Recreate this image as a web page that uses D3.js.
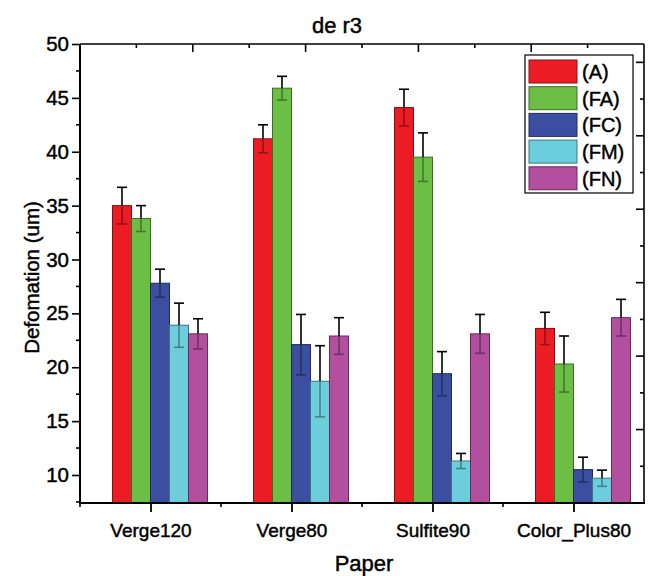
<!DOCTYPE html>
<html><head><meta charset="utf-8">
<script src="https://cdn.jsdelivr.net/npm/d3@7"></script>
<style>body{margin:0;background:#fff}svg{display:block}text{font-family:"Liberation Sans",Arial,sans-serif;fill:#000;stroke:#000;stroke-width:0.45px}</style>
</head><body><svg id="c" width="656" height="576"></svg>
<script>
const title = "de r3";
const xTitle = "Paper";
const yTitle = "Defomation (um)";
const categories = ["Verge120", "Verge80", "Sulfite90", "Color_Plus80"];
const seriesNames = ["(A)", "(FA)", "(FC)", "(FM)", "(FN)"];
const seriesColors = ["#ec1c24", "#6cbe45", "#3b4ea0", "#6ccedc", "#b24f9f"];
const valA  = [35.0, 41.2, 44.1, 23.6];
const valFA = [33.8, 45.9, 39.5, 20.3];
const valFC = [27.8, 22.1, 19.4, 10.5];
const valFM = [23.9, 18.7, 11.3, 9.7];
const valFN = [23.1, 22.9, 23.1, 24.6];
const errA  = [1.7, 1.3, 1.7, 1.5];
const errFA = [1.2, 1.1, 2.25, 2.6];
const errFC = [1.3, 2.8, 2.05, 1.15];
const errFM = [2.05, 3.3, 0.7, 0.75];
const errFN = [1.4, 1.7, 1.8, 1.7];
const yTicks = [10, 15, 20, 25, 30, 35, 40, 45, 50];

const values = [valA, valFA, valFC, valFM, valFN];
const errors = [errA, errFA, errFC, errFM, errFN];

const L = 80, R = 644, T = 44, B = 503;
const svg = d3.select("#c");
const x = d3.scaleLinear().domain([0.5, 4.5]).range([L, R]);
const y = d3.scaleLinear().domain([7.4, 50]).range([B, T]);
const bw = 19;
const inner = d3.scaleBand().domain(seriesNames).range([0, bw * 5]);

// bars
const data = [];
categories.forEach((c, i) => {
  seriesNames.forEach((s, j) => {
    data.push({c, i, s, j, v: values[j][i], e: errors[j][i], color: seriesColors[j]});
  });
});
const g = svg.append("g");
const bx = d => x(d.i + 1) - 2 * bw + inner(d.s);
g.selectAll("rect.bar").data(data).join("rect").attr("class", "bar")
  .attr("x", bx).attr("width", inner.bandwidth())
  .attr("y", d => y(d.v)).attr("height", d => B - y(d.v))
  .attr("fill", d => d.color)
  .attr("stroke", d => d3.color(d.color).darker(1.6)).attr("stroke-width", 1);

// error bars
const eg = g.selectAll("g.err").data(data).join("g").attr("class", "err");
const cx = d => bx(d) + inner.bandwidth() / 2;
const cap = 5;
eg.append("line").attr("x1", cx).attr("x2", cx).attr("y1", d => y(d.v)).attr("y2", d => y(d.v + d.e))
  .attr("stroke", "#000").attr("stroke-width", 1.6);
eg.append("line").attr("x1", d => cx(d) - cap).attr("x2", d => cx(d) + cap).attr("y1", d => y(d.v + d.e)).attr("y2", d => y(d.v + d.e))
  .attr("stroke", "#000").attr("stroke-width", 1.6);
eg.append("line").attr("x1", cx).attr("x2", cx).attr("y1", d => y(d.v)).attr("y2", d => y(d.v - d.e))
  .attr("stroke", d => d3.color(d.color).darker(1.3)).attr("stroke-width", 1.6);
eg.append("line").attr("x1", d => cx(d) - cap).attr("x2", d => cx(d) + cap).attr("y1", d => y(d.v - d.e)).attr("y2", d => y(d.v - d.e))
  .attr("stroke", d => d3.color(d.color).darker(1.3)).attr("stroke-width", 1.6);

// left axis
const yMinor = d3.range(7.5, 50, 5);
const yAx = svg.append("g").attr("transform", `translate(${L},0)`);
yAx.call(d3.axisLeft(y).tickValues(yTicks).tickSize(8).tickPadding(3).tickFormat(d3.format("d")));
yAx.selectAll(".tick line").attr("stroke-width", 1.6);
yAx.selectAll("text").style("font-size", "20.5px");
yAx.select(".domain").remove();
yAx.selectAll(".minor").data(yMinor.filter(v => v > 7.4)).join("line").attr("class", "minor")
  .attr("x1", -4).attr("x2", 0).attr("y1", d => y(d)).attr("y2", d => y(d)).attr("stroke", "#000").attr("stroke-width", 1.6);

// bottom axis
const xAx = svg.append("g").attr("transform", `translate(0,${B})`);
xAx.call(d3.axisBottom(x).tickValues([1, 2, 3, 4]).tickSize(9).tickPadding(12).tickFormat(d => categories[d - 1]));
xAx.selectAll(".tick line").attr("stroke-width", 1.8);
xAx.selectAll("text").style("font-size", "19px");
xAx.select(".domain").remove();
xAx.selectAll(".minor").data([0.5, 1.5, 2.5, 3.5]).join("line").attr("class", "minor")
  .attr("x1", d => x(d)).attr("x2", d => x(d)).attr("y1", 0).attr("y2", 4).attr("stroke", "#000").attr("stroke-width", 1.6);

// top axis (inward ticks)
const xt = d3.scaleLinear().domain([0, 5]).range([L, R]);
svg.append("g").selectAll("line").data(d3.range(0.5, 5, 0.5)).join("line")
  .attr("x1", d => xt(d)).attr("x2", d => xt(d)).attr("y1", T)
  .attr("y2", d => T + (Number.isInteger(d) ? 8 : 4)).attr("stroke", "#000").attr("stroke-width", 1.6);

// right axis (inward ticks)
const yr = d3.scaleLinear().domain([0, 6.25]).range([B, T]);
svg.append("g").selectAll("line").data(d3.range(0.5, 6.25, 0.5)).join("line")
  .attr("y1", d => yr(d)).attr("y2", d => yr(d)).attr("x1", R)
  .attr("x2", d => R - (Number.isInteger(d) ? 8 : 4)).attr("stroke", "#000").attr("stroke-width", 1.6);

// frame
svg.append("line").attr("x1", L).attr("x2", R).attr("y1", T).attr("y2", T).attr("stroke", "#000").attr("stroke-width", 1.6);
svg.append("line").attr("x1", R).attr("x2", R).attr("y1", T).attr("y2", B).attr("stroke", "#000").attr("stroke-width", 1.6);
svg.append("line").attr("x1", L).attr("x2", L).attr("y1", T).attr("y2", B + 1).attr("stroke", "#000").attr("stroke-width", 2);
svg.append("line").attr("x1", L - 1).attr("x2", R + 1).attr("y1", B).attr("y2", B).attr("stroke", "#000").attr("stroke-width", 2);

// titles
svg.append("text").attr("x", 337).attr("y", 33).attr("text-anchor", "middle").style("font-size", "22px").text(title);
svg.append("text").attr("x", 364).attr("y", 571).attr("text-anchor", "middle").style("font-size", "22px").text(xTitle);
svg.append("text").attr("transform", `translate(39,${(T + B) / 2 + 4}) rotate(-90)`).attr("text-anchor", "middle").style("font-size", "20.5px").text(yTitle);

// legend
const lg = svg.append("g");
lg.append("rect").attr("x", 525).attr("y", 55).attr("width", 108).attr("height", 138).attr("fill", "#fff").attr("stroke", "#000").attr("stroke-width", 1.2);
const li = lg.selectAll("g.li").data(seriesNames).join("g").attr("class", "li")
  .attr("transform", (d, i) => `translate(529,${60 + i * 26.7})`);
li.append("rect").attr("width", 48).attr("height", 23).attr("fill", (d, i) => seriesColors[i])
  .attr("stroke", (d, i) => d3.color(seriesColors[i]).darker(1.6)).attr("stroke-width", 1);
li.append("text").attr("x", 53).attr("y", 19).style("font-size", "20px").text(d => d);
</script></body></html>
